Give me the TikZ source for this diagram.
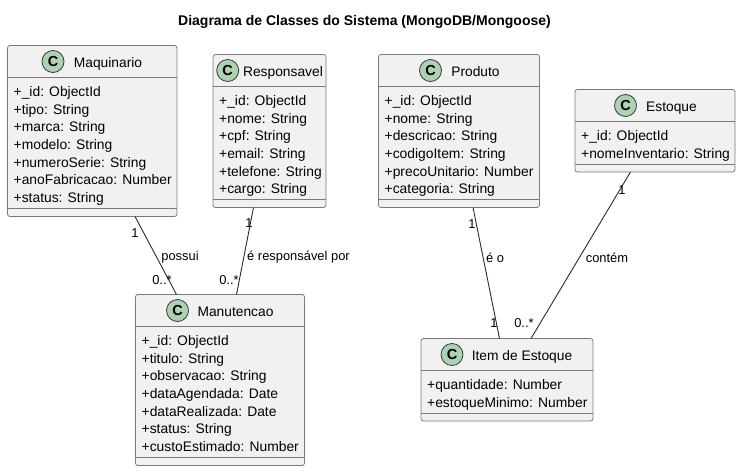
\documentclass[tikz,border=0pt]{standalone}
\usepackage{fontspec}
\setmainfont{Liberation Sans}
\tikzset{
  x=1pt,y=-1pt,
  classbody/.style={draw=umlline,fill=umlfill,line width=0.8pt,rounded corners=2.5pt,inner sep=0pt},
  classrule/.style={draw=umlline,line width=0.8pt},
  classspot/.style={circle,draw=umlspotline,fill=umlspot,line width=0.8pt,minimum size=22pt,inner sep=0pt,font=\fontsize{14.5}{14}\selectfont\bfseries},
  classtitle/.style={anchor=base,inner sep=0pt,font=\fontsize{13.8}{16}\selectfont},
  classrows/.style={anchor=north west,inner sep=0pt,align=left,font=\fontsize{13.85}{17.67}\selectfont},
  relation/.style={draw=umledge,line width=0.9pt},
  rellabel/.style={inner sep=0pt,font=\fontsize{12.9}{14}\selectfont},
}
\definecolor{umlline}{HTML}{7A7A7A}
\definecolor{umlfill}{HTML}{F1F1F1}
\definecolor{umlspot}{HTML}{ADD1B2}
\definecolor{umlspotline}{HTML}{3A3A3A}
\definecolor{umledge}{HTML}{2A2A2A}
% id, x1, y1, x2, y2, spot x, title x, title, rows
\newcommand{\umlclass}[9]{%
  \path[classbody] (#2,#3) rectangle (#4,#5);
  \coordinate (#1-nw) at (#2,#3);
  \coordinate (#1-se) at (#4,#5);
  \draw[classrule] (#2,#3+31.5) -- (#4,#3+31.5);
  \draw[classrule] (#2,#5-8) -- (#4,#5-8);
  \node[classspot] (#1-spot) at (#6,#3+16) {C};
  \node[classtitle] (#1-title) at (#7,#3+21.7) {#8};
  \node[classrows] (#1-rows) at (#2+6,#3+40.8) {#9};
}
\begin{document}
\begin{tikzpicture}
\useasboundingbox (0,0) rectangle (741,471);
\node[inner sep=0pt,anchor=base,font=\fontsize{14}{16}\selectfont\bfseries] (title) at (364.5,25) {Diagrama de Classes do Sistema (MongoDB/Mongoose)};

\umlclass{maq}{7.5}{45.5}{177}{216.5}{53}{108}{Maquinario}{+\_id: ObjectId\\+tipo: String\\+marca: String\\+modelo: String\\+numeroSerie: String\\+anoFabricacao: Number\\+status: String}
\umlclass{res}{213}{54.5}{326}{207.5}{227.7}{283}{Responsavel}{+\_id: ObjectId\\+nome: String\\+cpf: String\\+email: String\\+telefone: String\\+cargo: String}
\umlclass{pro}{378.5}{54.5}{539.5}{207.5}{430.5}{475.5}{Produto}{+\_id: ObjectId\\+nome: String\\+descricao: String\\+codigoItem: String\\+precoUnitario: Number\\+categoria: String}
\umlclass{est}{575}{89.5}{735}{172}{625.5}{671.5}{Estoque}{+\_id: ObjectId\\+nomeInventario: String}
\umlclass{man}{135.5}{294.5}{304.5}{465.5}{177.5}{235.5}{Manutencao}{+\_id: ObjectId\\+titulo: String\\+observacao: String\\+dataAgendada: Date\\+dataRealizada: Date\\+status: String\\+custoEstimado: Number}
\umlclass{ite}{421}{338.5}{593}{421}{452}{522}{Item de Estoque}{+quantidade: Number\\+estoqueMinimo: Number}

\coordinate (maqA) at (135,216.5);  \coordinate (manA) at (176.5,294.5);
\coordinate (resA) at (253.5,207.5);\coordinate (manB) at (236.5,294.5);
\coordinate (proA) at (473,207.5);  \coordinate (iteA) at (499.5,338.5);
\coordinate (estA) at (630.5,172);  \coordinate (iteB) at (531,338.5);
\draw[relation] (maqA) -- (manA);
\draw[relation] (resA) -- (manB);
\draw[relation] (proA) -- (iteA);
\draw[relation] (estA) -- (iteB);

\node[rellabel] (l1) at (135,233.5) {1};
\node[rellabel] (l2) at (180,257.5) {possui};
\node[rellabel] (l3) at (162,280.5) {0..*};
\node[rellabel] (l4) at (249,223.5) {1};
\node[rellabel] (l5) at (298.5,257.5) {é responsável por};
\node[rellabel] (l6) at (229,280.5) {0..*};
\node[rellabel] (l7) at (472,224.5) {1};
\node[rellabel] (l8) at (495,257.5) {é o};
\node[rellabel] (l9) at (494,323.5) {1};
\node[rellabel] (l10) at (524,323.5) {0..*};
\node[rellabel] (l11) at (607,257.5) {contém};
\node[rellabel] (l12) at (622,190.5) {1};
\end{tikzpicture}
\end{document}
